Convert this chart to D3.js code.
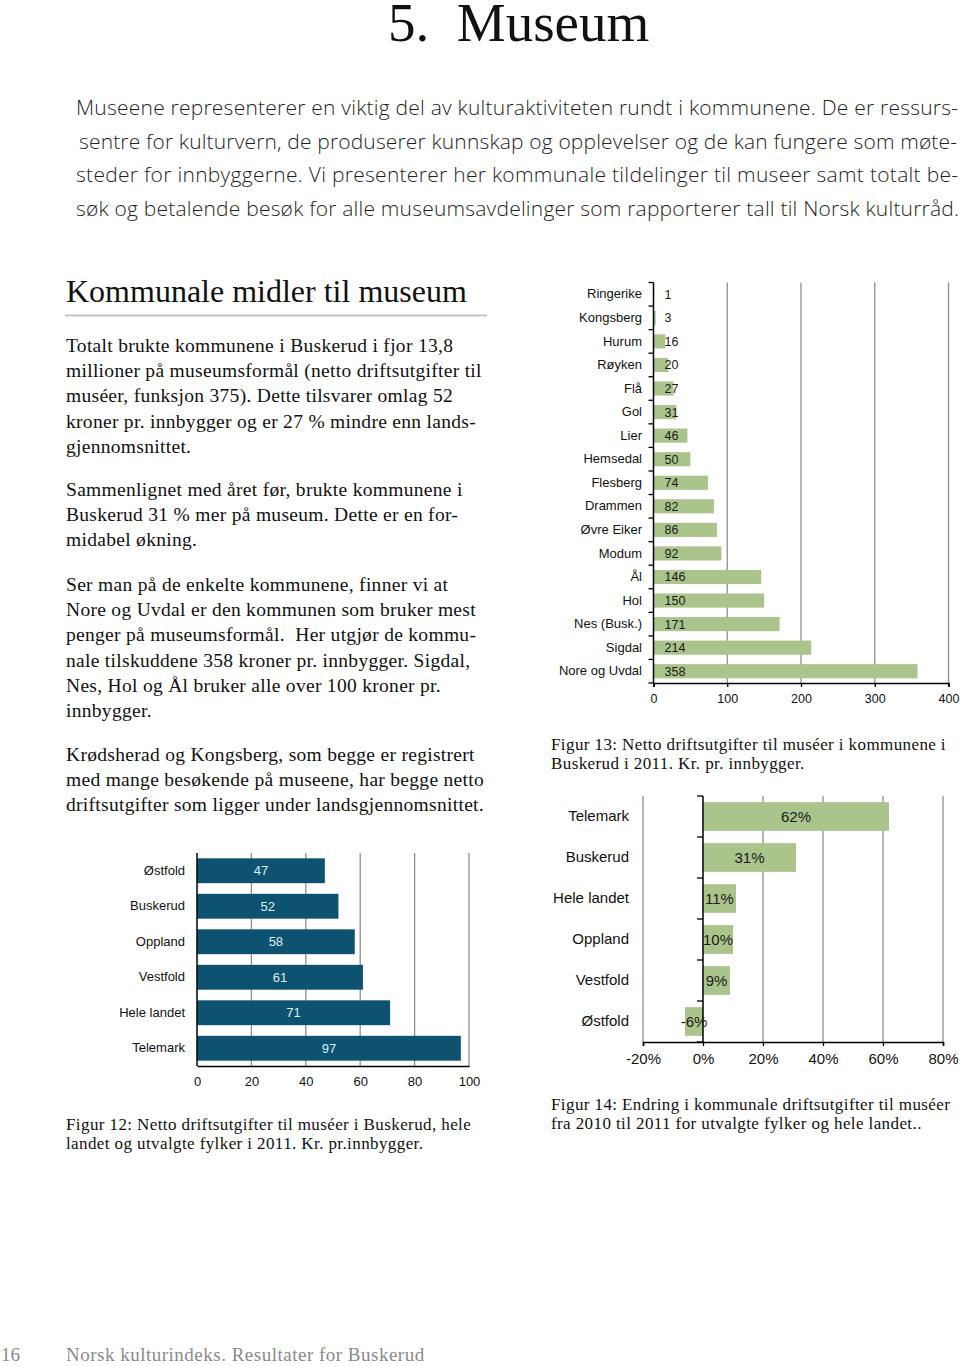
<!DOCTYPE html>
<html>
<head>
<meta charset="utf-8">
<script src="https://cdn.jsdelivr.net/npm/d3@7"></script>
<style>
  body { margin: 0; background: #fff; }
  svg { display: block; }
</style>
</head>
<body>
<div id="container"></div>
<script>
/* DATA */
const fig13Kommuner = ["Ringerike", "Kongsberg", "Hurum", "Røyken", "Flå", "Gol", "Lier", "Hemsedal",
  "Flesberg", "Drammen", "Øvre Eiker", "Modum", "Ål", "Hol", "Nes (Busk.)", "Sigdal", "Nore og Uvdal"];
const fig13Verdier = [1, 3, 16, 20, 27, 31, 46, 50, 74, 82, 86, 92, 146, 150, 171, 214, 358];
const fig13Ticks = [0, 100, 200, 300, 400];

const fig12Fylker = ["Østfold", "Buskerud", "Oppland", "Vestfold", "Hele landet", "Telemark"];
const fig12Verdier = [47, 52, 58, 61, 71, 97];
const fig12Ticks = [0, 20, 40, 60, 80, 100];

const fig14Fylker = ["Telemark", "Buskerud", "Hele landet", "Oppland", "Vestfold", "Østfold"];
const fig14Endring = [62, 31, 11, 10, 9, -6];
const fig14Ticks = [-20, 0, 20, 40, 60, 80];

const introLines = [
  "Museene representerer en viktig del av kulturaktiviteten rundt i kommunene. De er ressurs-",
  "sentre for kulturvern, de produserer kunnskap og opplevelser og de kan fungere som møte-",
  "steder for innbyggerne. Vi presenterer her kommunale tildelinger til museer samt totalt be-",
  "søk og betalende besøk for alle museumsavdelinger som rapporterer tall til Norsk kulturråd."
];

const bodyParas = [
  ["Totalt brukte kommunene i Buskerud i fjor 13,8",
   "millioner på museumsformål (netto driftsutgifter til",
   "muséer, funksjon 375). Dette tilsvarer omlag 52",
   "kroner pr. innbygger og er 27 % mindre enn lands-",
   "gjennomsnittet."],
  ["Sammenlignet med året før, brukte kommunene i",
   "Buskerud 31 % mer på museum. Dette er en for-",
   "midabel økning."],
  ["Ser man på de enkelte kommunene, finner vi at",
   "Nore og Uvdal er den kommunen som bruker mest",
   "penger på museumsformål.  Her utgjør de kommu-",
   "nale tilskuddene 358 kroner pr. innbygger. Sigdal,",
   "Nes, Hol og Ål bruker alle over 100 kroner pr.",
   "innbygger."],
  ["Krødsherad og Kongsberg, som begge er registrert",
   "med mange besøkende på museene, har begge netto",
   "driftsutgifter som ligger under landsgjennomsnittet."]
];

const fig12Caption = ["Figur 12: Netto driftsutgifter til muséer i Buskerud, hele",
  "landet og utvalgte fylker i 2011. Kr. pr.innbygger."];
const fig13Caption = ["Figur 13: Netto driftsutgifter til muséer i kommunene i",
  "Buskerud i 2011. Kr. pr. innbygger."];
const fig14Caption = ["Figur 14: Endring i kommunale driftsutgifter til muséer",
  "fra 2010 til 2011 for utvalgte fylker og hele landet.."];

/* CONSTANTS */
const width = 960, height = 1366;
const serif = "'Liberation Serif', 'DejaVu Serif', serif";
const sans = "'Liberation Sans', Arial, sans-serif";
const green = "#aac48c";
const teal = "#0d5270";

const svg = d3.select("#container")
  .append("svg")
  .attr("width", width)
  .attr("height", height);

// PAGE TITLE
svg.append("text")
  .attr("x", 388)
  .attr("y", 41)
  .attr("font-family", serif)
  .attr("font-size", 55)
  .attr("fill", "#111")
  .attr("xml:space", "preserve")
  .text("5.  Museum");

// INTRO (justified)
const introWidths = [882, 878, 882, 883];
const introX = [76, 79, 76, 76];
introLines.forEach((t, i) => {
  svg.append("text")
    .attr("x", introX[i])
    .attr("y", 115 + i * 33.5)
    .attr("font-family", "'Open Sans', 'Noto Sans', sans-serif")
    .attr("font-weight", 300)
    .attr("font-size", 21)
    .attr("fill", "#1f1f1f")
    .attr("textLength", introWidths[i])
    .attr("lengthAdjust", "spacing")
    .text(t);
});

// LEFT COLUMN HEADING
svg.append("text")
  .attr("x", 66)
  .attr("y", 302)
  .attr("font-family", serif)
  .attr("font-size", 32)
  .attr("fill", "#111")
  .text("Kommunale midler til museum");

svg.append("line")
  .attr("x1", 65).attr("x2", 487)
  .attr("y1", 315.5).attr("y2", 315.5)
  .attr("stroke", "#c4c4c4")
  .attr("stroke-width", 2);

// BODY TEXT
const paraStart = [352, 496, 591, 761];
bodyParas.forEach((lines, p) => {
  lines.forEach((t, i) => {
    svg.append("text")
      .attr("x", 66)
      .attr("y", paraStart[p] + i * 25.2)
      .attr("font-family", serif)
      .attr("font-size", 19.5)
      .attr("letter-spacing", 0.3)
      .attr("fill", "#111")
      .attr("xml:space", "preserve")
      .text(t);
  });
});

// CAPTIONS
function caption(lines, x, y) {
  lines.forEach((t, i) => {
    svg.append("text")
      .attr("x", x)
      .attr("y", y + i * 19)
      .attr("font-family", serif)
      .attr("font-size", 17)
      .attr("letter-spacing", 0.4)
      .attr("fill", "#111")
      .text(t);
  });
}
caption(fig13Caption, 551, 750);
caption(fig12Caption, 66, 1130);
caption(fig14Caption, 551, 1110);

// FOOTER
svg.append("text")
  .attr("x", 1).attr("y", 1361)
  .attr("font-family", serif).attr("font-size", 19)
  .attr("fill", "#8a8a8a")
  .text("16");
svg.append("text")
  .attr("x", 66).attr("y", 1361)
  .attr("font-family", serif).attr("font-size", 19)
  .attr("letter-spacing", 0.5)
  .attr("fill", "#8a8a8a")
  .text("Norsk kulturindeks. Resultater for Buskerud");

/* BAR CHART HELPER */
function barChart(opt) {
  const g = svg.append("g");

  const x = d3.scaleLinear()
    .domain(d3.extent(opt.ticks))
    .range(opt.xRange);

  const y = d3.scaleBand()
    .domain(opt.cats)
    .range(opt.yRange)
    .paddingInner(opt.padding)
    .paddingOuter(opt.padding / 2);

  const top = opt.yRange[0], bottom = opt.yRange[1];

  // GRIDLINES
  g.selectAll(".grid")
    .data(opt.ticks.filter(t => t !== 0))
    .join("line")
    .attr("x1", d => x(d)).attr("x2", d => x(d))
    .attr("y1", top).attr("y2", bottom)
    .attr("stroke", "#8f8f8f")
    .attr("stroke-width", 1.3);

  // BARS
  const rows = opt.cats.map((c, i) => ({ c, v: opt.values[i] }));
  g.selectAll(".bar")
    .data(rows)
    .join("rect")
    .attr("x", d => x(Math.min(0, d.v)))
    .attr("y", d => y(d.c))
    .attr("width", d => Math.abs(x(d.v) - x(0)))
    .attr("height", y.bandwidth())
    .attr("fill", opt.color);

  // X AXIS
  const xAxis = d3.axisBottom(x)
    .tickValues(opt.ticks)
    .tickSize(opt.xTickSize)
    .tickPadding(opt.xTickPad)
    .tickFormat(opt.fmt);
  const xg = g.append("g")
    .attr("transform", `translate(0, ${bottom})`)
    .call(xAxis);
  xg.select(".domain").attr("stroke", "#000").attr("stroke-width", 1.5);
  xg.selectAll(".tick line").attr("stroke", "#000").attr("stroke-width", 1.3);
  xg.selectAll("text")
    .attr("font-family", sans)
    .attr("font-size", opt.fontSize)
    .attr("fill", "#111");

  // Y AXIS LINE AT ZERO
  g.append("line")
    .attr("x1", x(0)).attr("x2", x(0))
    .attr("y1", top).attr("y2", bottom)
    .attr("stroke", "#000")
    .attr("stroke-width", 1.5);

  // CATEGORY BOUNDARY TICKS
  if (opt.yTickSize > 0) {
    g.selectAll(".ytick")
      .data(d3.range(opt.cats.length + 1))
      .join("line")
      .attr("x1", x(0) - opt.yTickSize).attr("x2", x(0))
      .attr("y1", i => y.range()[0] + i * y.step())
      .attr("y2", i => y.range()[0] + i * y.step())
      .attr("stroke", "#000")
      .attr("stroke-width", 1.3);
  }

  // CATEGORY LABELS
  const yAxis = d3.axisLeft(y).tickSize(0).tickPadding(opt.labelPad);
  const yg = g.append("g")
    .attr("transform", `translate(${opt.labelAt(x)}, 0)`)
    .call(yAxis);
  yg.select(".domain").remove();
  yg.selectAll("text")
    .attr("font-family", sans)
    .attr("font-size", opt.labelSize || opt.fontSize)
    .attr("fill", "#111");

  // VALUE LABELS
  g.selectAll(".val")
    .data(rows)
    .join("text")
    .attr("x", d => opt.valueX(x, d.v))
    .attr("y", d => y(d.c) + y.bandwidth() / 2)
    .attr("dy", "0.36em")
    .attr("text-anchor", opt.valueAnchor)
    .attr("font-family", sans)
    .attr("font-size", opt.fontSize)
    .attr("fill", opt.valueColor)
    .text(d => opt.valueFmt(d.v));
}

// FIGURE 13
barChart({
  cats: fig13Kommuner, values: fig13Verdier, ticks: fig13Ticks,
  xRange: [653.5, 948.5], yRange: [282.5, 683], padding: 0.4,
  color: green, fontSize: 12.5, labelSize: 13,
  xTickSize: 4, xTickPad: 7, fmt: d3.format("d"),
  yTickSize: 5, labelPad: 11.5, labelAt: x => x(0),
  valueX: (x, v) => x(0) + 11, valueAnchor: "start",
  valueColor: "#1a1a1a", valueFmt: v => v
});

// FIGURE 12
barChart({
  cats: fig12Fylker, values: fig12Verdier, ticks: fig12Ticks,
  xRange: [197, 469], yRange: [853, 1066], padding: 0.3,
  color: teal, fontSize: 13,
  xTickSize: 0, xTickPad: 11, fmt: d3.format("d"),
  yTickSize: 0, labelPad: 12, labelAt: x => x(0),
  valueX: (x, v) => (x(0) + x(v)) / 2, valueAnchor: "middle",
  valueColor: "#dcedf3", valueFmt: v => v
});

// FIGURE 14
barChart({
  cats: fig14Fylker, values: fig14Endring, ticks: fig14Ticks,
  xRange: [643, 943], yRange: [796, 1042], padding: 0.3,
  color: green, fontSize: 15,
  xTickSize: 4, xTickPad: 7, fmt: d => d + "%",
  yTickSize: 6, labelPad: 14, labelAt: x => x(-20),
  valueX: (x, v) => (x(0) + x(v)) / 2, valueAnchor: "middle",
  valueColor: "#1a1a1a", valueFmt: v => v + "%"
});
</script>
</body>
</html>
